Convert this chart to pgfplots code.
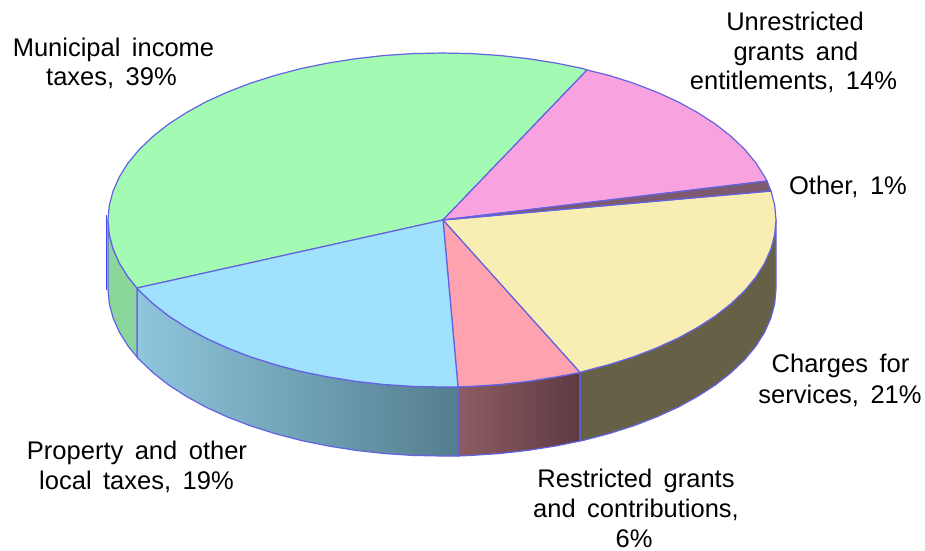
\documentclass[border=0pt]{standalone}
\usepackage{pgfplots}
\pgfplotsset{compat=1.18}
\usepackage{fontspec}
\setmainfont{Liberation Sans}

\definecolor{edge}{RGB}{98,98,226}
\definecolor{edgestrong}{RGB}{70,70,240}
\definecolor{topgreen}{RGB}{163,250,179}
\definecolor{toppink}{RGB}{248,163,224}
\definecolor{topother}{RGB}{126,90,112}
\definecolor{topyellow}{RGB}{248,237,179}
\definecolor{topred}{RGB}{253,162,174}
\definecolor{topblue}{RGB}{160,226,253}
\definecolor{wallgreen}{RGB}{138,214,155}
\definecolor{wallblueL}{RGB}{143,198,220}
\definecolor{wallblueR}{RGB}{84,126,143}
\definecolor{wallredL}{RGB}{142,92,99}
\definecolor{wallredR}{RGB}{94,58,66}
\definecolor{wallyellow}{RGB}{102,96,71}

% wider gaps between words, as in the reference
\newcommand{\wide}{\spaceskip=11.5pt\relax}
\tikzset{lab/.style={anchor=base, inner sep=0pt, font=\fontsize{25.5}{30}\selectfont}}

\begin{document}
\begin{tikzpicture}
% hide axis leaves no box, so fix the page size here
\useasboundingbox (0,0) rectangle (925pt,550pt);
\begin{axis}[
    at={(0,0)}, anchor=south west,
    width=925pt, height=550pt, scale only axis,
    xmin=0, xmax=925, ymin=0, ymax=550,
    y dir=reverse,
    hide axis,
    clip=false,
    every axis plot/.append style={line width=1.2pt, draw=edge},
]
% side walls
\addplot[fill=wallyellow] coordinates {
    (776,220) (774.7,234.6) (770.9,249) (764.6,263.2) (755.9,277.1) (744.7,290.6)
    (731.2,303.5) (715.6,315.8) (697.8,327.3) (678.2,338.1) (656.7,347.9) (633.6,356.8)
    (609,364.6) (583.2,371.4) (580,372.5)
    (580,441) (583.2,440.4) (609,433.6) (633.6,425.8) (656.7,416.9) (678.2,407.1)
    (697.8,396.3) (715.6,384.8) (731.2,372.5) (744.7,359.6) (755.9,346.1) (764.6,332.2)
    (770.9,318) (774.7,303.6) (776,289)
} --cycle;
\addplot[left color=wallredL, right color=wallredR] coordinates {
    (580,372.5) (556.2,376.9) (528.4,381.3) (500,384.5) (471.1,386.4) (458,386.9)
    (458,456) (471.1,455.4) (500,453.5) (528.4,450.3) (556.2,445.9) (580,441)
} --cycle;
\addplot[left color=wallblueL, right color=wallblueR] coordinates {
    (458,386.9) (442,387) (412.9,386.4) (384,384.5) (355.6,381.3) (327.8,376.9) (300.8,371.4)
    (275,364.6) (250.4,356.8) (227.3,347.9) (205.8,338.1) (186.2,327.3) (168.4,315.8)
    (152.8,303.5) (139.3,290.6) (137,288)
    (137,357) (139.3,359.6) (152.8,372.5) (168.4,384.8) (186.2,396.3) (205.8,407.1)
    (227.3,416.9) (250.4,425.8) (275,433.6) (300.8,440.4) (327.8,445.9) (355.6,450.3)
    (384,453.5) (412.9,455.4) (442,456) (458,456)
} --cycle;
\addplot[fill=wallgreen] coordinates {
    (137,288) (128.1,277.1) (119.4,263.2) (113.1,249) (109.3,234.6) (108,220)
    (108,289) (109.3,303.6) (113.1,318) (119.4,332.2) (128.1,346.1) (137,357)
} --cycle;
% left rim is heavier in the original
\addplot[draw=edgestrong, line width=1.6pt] coordinates {(106.5,215) (106.5,290)};

% top face
\addplot[fill=topgreen] coordinates {
    (443,220) (137,288) (128.1,277.1) (119.4,263.2) (113.1,249) (109.3,234.6) (108,220)
    (109.3,205.4) (113.1,191) (119.4,176.8) (128.1,162.9) (139.3,149.4) (152.8,136.5)
    (168.4,124.2) (186.2,112.7) (205.8,101.9) (227.3,92.1) (250.4,83.2) (275,75.4)
    (300.8,68.6) (327.8,63.1) (355.6,58.7) (384,55.5) (412.9,53.6) (442,53) (471.1,53.6)
    (500,55.5) (528.4,58.7) (556.2,63.1) (583.2,68.6) (587,70)
} --cycle;
\addplot[fill=toppink] coordinates {
    (443,220) (587,70) (609,75.4) (633.6,83.2) (656.7,92.1) (678.2,101.9) (697.8,112.7)
    (715.6,124.2) (731.2,136.5) (744.7,149.4) (755.9,162.9) (764.6,176.8) (767,181)
} --cycle;
\addplot[fill=topyellow] coordinates {
    (443,220) (771,191) (774.7,205.4) (776,220) (774.7,234.6) (770.9,249) (764.6,263.2)
    (755.9,277.1) (744.7,290.6) (731.2,303.5) (715.6,315.8) (697.8,327.3) (678.2,338.1)
    (656.7,347.9) (633.6,356.8) (609,364.6) (583.2,371.4) (580,372.5)
} --cycle;
\addplot[fill=topother] coordinates {
    (443,220) (767,181) (771,191)
} --cycle;
\addplot[fill=topred] coordinates {
    (443,220) (580,372.5) (556.2,376.9) (528.4,381.3) (500,384.5) (471.1,386.4) (458,386.9)
} --cycle;
\addplot[fill=topblue] coordinates {
    (443,220) (458,386.9) (442,387) (412.9,386.4) (384,384.5) (355.6,381.3) (327.8,376.9)
    (300.8,371.4) (275,364.6) (250.4,356.8) (227.3,347.9) (205.8,338.1) (186.2,327.3)
    (168.4,315.8) (152.8,303.5) (139.3,290.6) (137,288)
} --cycle;

% labels, one node per line, placed on the baseline
\node[lab] at (axis cs:113.5,56) {\wide Municipal income};
\node[lab] at (axis cs:111.5,85) {\wide taxes, 39\%};
\node[lab] at (axis cs:795,30) {Unrestricted};
\node[lab] at (axis cs:796,60) {\wide grants and};
\node[lab] at (axis cs:793.5,89) {\wide entitlements, 14\%};
\node[lab] at (axis cs:848,194) {\wide Other, 1\%};
\node[lab] at (axis cs:840.5,372) {\wide Charges for};
\node[lab] at (axis cs:840,403) {\wide services, 21\%};
\node[lab] at (axis cs:636,487) {\wide Restricted grants};
\node[lab] at (axis cs:636,517) {\wide and contributions,};
\node[lab] at (axis cs:634,547) {6\%};
\node[lab] at (axis cs:137,459) {\wide Property and other};
\node[lab] at (axis cs:136.5,489) {\wide local taxes, 19\%};
\end{axis}
\end{tikzpicture}
\end{document}
